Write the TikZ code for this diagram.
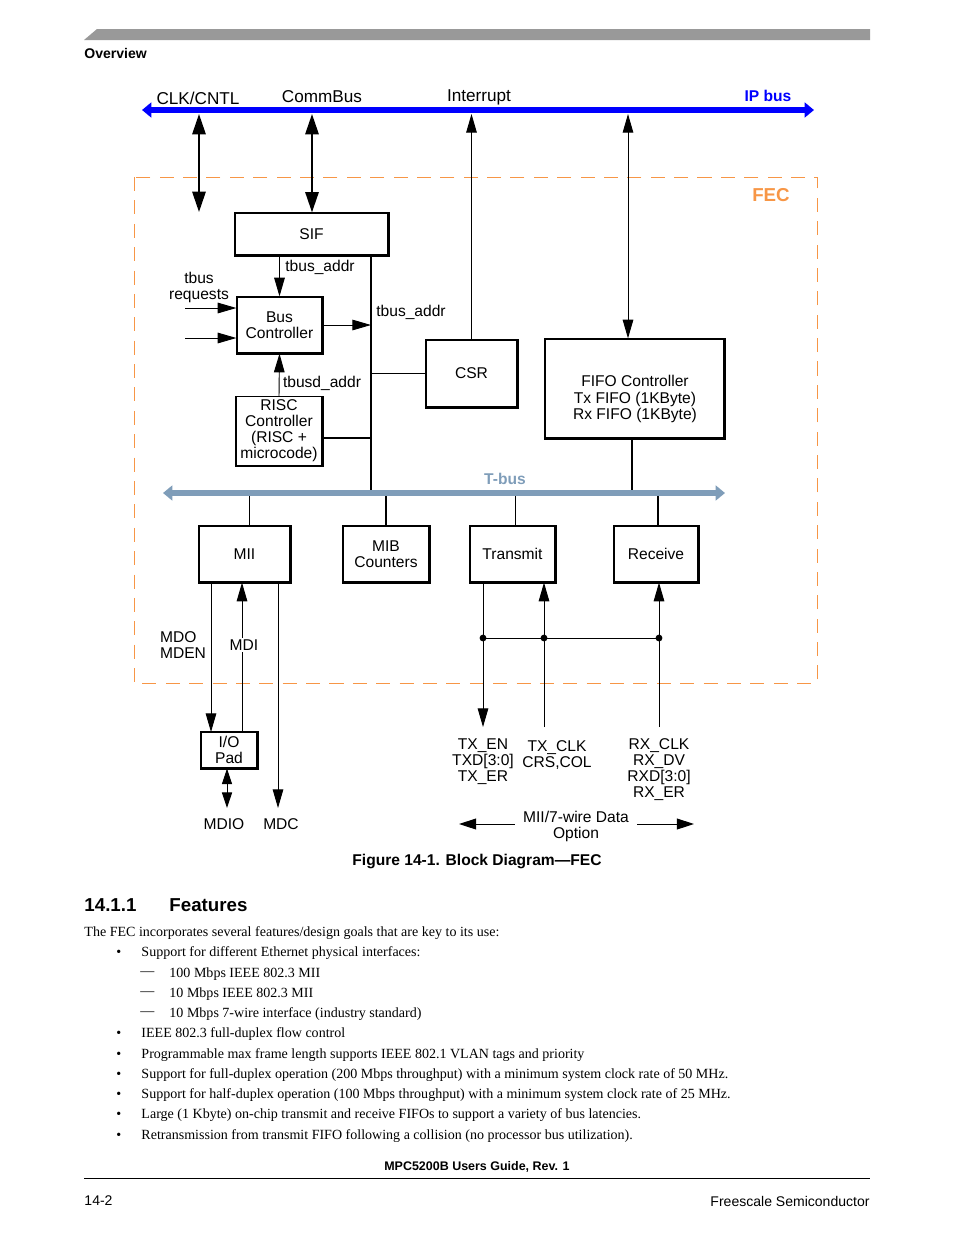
\documentclass[tikz,border=0pt]{standalone}
\usepackage{fontspec}
\setmainfont{Liberation Serif}
\newfontfamily\hv{Liberation Sans}
\usetikzlibrary{arrows.meta}
\definecolor{ipblue}{RGB}{0,0,255}
\definecolor{fecorange}{RGB}{247,150,70}
\definecolor{tbusgray}{RGB}{127,157,185}
\definecolor{bargray}{RGB}{153,153,153}
\tikzset{
  box/.style 2 args={draw,line width=0.8pt,align=center,inner sep=0pt,
    minimum width=#1*0.6415pt,minimum height=#2*0.6415pt},
  lbl/.style={align=center,inner sep=1pt},
  body/.style={anchor=west,inner sep=0pt,font=\rmfamily\fontsize{9}{11}\selectfont},
  bus/.style={{Triangle[length=6pt,width=9.5pt]}-{Triangle[length=6pt,width=9.5pt]}},
  dbl/.style={line width=1.3pt,{Triangle[length=13pt,width=8.5pt]}-{Triangle[length=13pt,width=8.5pt]}},
  small/.style={{Triangle[length=10pt,width=6.5pt]}-{Triangle[length=10pt,width=6.5pt]}},
}
\begin{document}
\begin{tikzpicture}[x=0.6415pt,y=-0.6415pt,>={Triangle[length=12pt,width=6.8pt]},line width=0.6pt,font=\hv\fontsize{10}{10.3}\selectfont]
  \useasboundingbox (0,0) rectangle (954,1235);

  % 页眉
  \fill[bargray] (84,40) -- (97,29) -- (870,29) -- (870,40) -- cycle;
  \node[anchor=west,inner sep=0pt,font=\hv\bfseries\fontsize{9}{10}\selectfont] (ov) at (84,53) {Overview};

  % IP bus
  \coordinate (ipL) at (142,110);
  \coordinate (ipR) at (814,110);
  \draw[bus,ipblue,line width=4pt] (ipL) -- (ipR);
  \node[font=\hv\fontsize{11}{12}\selectfont] (clk) at (198,98) {CLK/CNTL};
  \node[font=\hv\fontsize{11}{12}\selectfont] (comm) at (322,97) {CommBus};
  \node[font=\hv\fontsize{11}{12}\selectfont] (intr) at (479,97) {Interrupt};
  \node[font=\hv\bfseries,text=ipblue] (iplbl) at (768,96) {IP bus};

  % FEC 框
  \draw[fecorange,dash pattern=on 9pt off 6pt] (134,177) rectangle (817,683);
  \node[font=\hv\bfseries\fontsize{12}{13}\selectfont,text=fecorange] (fec) at (771,195) {FEC};

  % 模块
  \node[box={153}{42}] (sif) at (311.5,234) {SIF};
  \node[box={85}{56}] (buscon) at (279.5,325) {Bus\\Controller};
  \node[box={86}{69}] (risc) at (279,431) {RISC\\Controller\\(RISC +\\microcode)};
  \node[box={91}{67}] (csr) at (471.5,373.5) {CSR};
  \node[box={179}{99}] (fifo) at (634.5,388.5) {};
  \node[lbl] (fifotxt) at (635,399) {FIFO Controller\\Tx FIFO (1KByte)\\Rx FIFO (1KByte)};
  \node[box={91}{56}] (mii) at (244.5,554) {MII};
  \node[box={86}{56}] (mib) at (386,554) {MIB\\Counters};
  \node[box={85}{56}] (tx) at (512.5,554) {Transmit};
  \node[box={84}{56}] (rx) at (656,554) {Receive};
  \node[box={56}{36}] (pad) at (229,750) {I/O\\Pad};
  \foreach \b in {sif,buscon,risc,csr,fifo,mii,mib,tx,rx,pad}
    \draw[line width=1.3pt] (\b.south west) -- (\b.south east) -- (\b.north east);

  % 与 IP bus 的连线
  \coordinate (ipclk) at (199,114);
  \coordinate (clkend) at (199,212);
  \draw[dbl] (ipclk) -- (clkend);
  \coordinate (ipcomm) at (312,114);
  \draw[dbl] (ipcomm) -- (ipcomm |- sif.north);
  \coordinate (ipint) at (471,114);
  \draw[->] (csr.north) -- (csr.north |- ipint);
  \coordinate (ipfifo) at (628,114);
  \draw[<->] (ipfifo) -- (ipfifo |- fifo.north);

  % 内部总线
  \draw[->] (sif.south -| buscon.north) -- (buscon.north);
  \node (tba1) at (320,267) {tbus\_addr};
  \coordinate (rq1) at (185,308);
  \coordinate (rq2) at (185,338);
  \draw[->] (rq1) -- (rq1 -| buscon.west);
  \draw[->] (rq2) -- (rq2 -| buscon.west);
  \node[lbl] (req) at (199,287) {tbus\\requests};
  \coordinate (vb) at (371,493);
  \draw[line width=1.3pt] (sif.south -| vb) -- (vb);
  \draw[->] (buscon.east) -- (buscon.east -| vb);
  \node (tba2) at (411,312) {tbus\_addr};
  \draw (csr.west) -- (csr.west -| vb);
  \coordinate (rb) at (371,438);
  \draw[line width=1.3pt] (rb -| risc.east) -- (rb);
  \draw[->] (risc.north) -- (buscon.south);
  \node (tbd) at (322,383) {tbusd\_addr};
  \coordinate (tfifo) at (632,493);
  \draw[line width=1.3pt] (fifo.south -| tfifo) -- (tfifo);

  % T-bus
  \coordinate (tmii) at (249,493);
  \coordinate (tmib) at (386,493);
  \coordinate (ttx) at (515,493);
  \coordinate (trx) at (658,493);
  \draw (tmii) -- (tmii |- mii.north);
  \draw[line width=1.3pt] (tmib) -- (tmib |- mib.north);
  \draw (ttx) -- (ttx |- tx.north);
  \draw[line width=1.3pt] (trx) -- (trx |- rx.north);
  \coordinate (tbL) at (163,493);
  \coordinate (tbR) at (725,493);
  \draw[bus,tbusgray,line width=3.8pt] (tbL) -- (tbR);
  \node[font=\hv\bfseries,text=tbusgray] (tbuslbl) at (505,479) {T-bus};

  % MII 引脚
  \coordinate (mdo) at (211,732);
  \draw[->] (mdo |- mii.south) -- (mdo);
  \coordinate (mdi) at (242,732);
  \draw[->] (mdi) -- (mdi |- mii.south);
  \node[fill=white,inner sep=1pt] (mdilbl) at (244,645) {MDI};
  \node[lbl,anchor=west,align=left] (mdolbl) at (158,645) {MDO\\MDEN};
  \coordinate (mdc) at (278,808);
  \draw[->] (mdc |- mii.south) -- (mdc);
  \coordinate (mdioend) at (227,808);
  \draw[small] (pad.south -| mdioend) -- (mdioend);
  \node (mdiolbl) at (224,824) {MDIO};
  \node (mdclbl) at (281,824) {MDC};

  % 收发引脚
  \coordinate (txen) at (483,727);
  \coordinate (txclk) at (544,727);
  \coordinate (rxclk) at (659,727);
  \draw[->] (txen |- tx.south) -- (txen);
  \draw[->] (txclk) -- (txclk |- tx.south);
  \draw[->] (rxclk) -- (rxclk |- rx.south);
  \coordinate (j1) at (483,638);
  \coordinate (j2) at (544,638);
  \coordinate (j3) at (659,638);
  \draw (j1) -- (j3);
  \fill (j1) circle[radius=2.2pt];
  \fill (j2) circle[radius=2.2pt];
  \fill (j3) circle[radius=2.2pt];
  \node[lbl] (txlbl) at (483,762) {TX\_EN\\TXD[3:0]\\TX\_ER};
  \node[lbl] (txclklbl) at (557,755) {TX\_CLK\\CRS,COL};
  \node[lbl] (rxlbl) at (659,770) {RX\_CLK\\RX\_DV\\RXD[3:0]\\RX\_ER};
  \node[lbl,inner sep=5pt] (opt) at (576,826) {MII/7-wire Data\\Option};
  \coordinate (optL) at (459,824);
  \coordinate (optR) at (694,824);
  \draw[-{Triangle[length=11pt,width=7pt]}] (opt.west |- optL) -- (optL);
  \draw[-{Triangle[length=11pt,width=7pt]}] (opt.east |- optR) -- (optR);

  % 图题
  \node[font=\hv\bfseries] (cap) at (477,861) {Figure 14-1. Block Diagram—FEC};

  % 正文
  \node[anchor=west,inner sep=0pt,font=\hv\bfseries\fontsize{12}{14}\selectfont] (secno) at (84,905) {14.1.1};
  \node[anchor=west,inner sep=0pt,font=\hv\bfseries\fontsize{12}{14}\selectfont] (sec) at (169,905) {Features};
  \node[body] (intro) at (84,933) {The FEC incorporates several features/design goals that are key to its use:};
  \node[body] (b1) at (116,953) {•};
  \node[body] (t1) at (141,953) {Support for different Ethernet physical interfaces:};
  \node[body] (d1) at (140,974) {—};
  \node[body] (t2) at (169,974) {100 Mbps IEEE 802.3 MII};
  \node[body] (d2) at (140,994) {—};
  \node[body] (t3) at (169,994) {10 Mbps IEEE 802.3 MII};
  \node[body] (d3) at (140,1014) {—};
  \node[body] (t4) at (169,1014) {10 Mbps 7-wire interface (industry standard)};
  \node[body] (b2) at (116,1034) {•};
  \node[body] (t5) at (141,1034) {IEEE 802.3 full-duplex flow control};
  \node[body] (b3) at (116,1055) {•};
  \node[body] (t6) at (141,1055) {Programmable max frame length supports IEEE 802.1 VLAN tags and priority};
  \node[body] (b4) at (116,1075) {•};
  \node[body] (t7) at (141,1075) {Support for full-duplex operation (200 Mbps throughput) with a minimum system clock rate of 50 MHz.};
  \node[body] (b5) at (116,1095) {•};
  \node[body] (t8) at (141,1095) {Support for half-duplex operation (100 Mbps throughput) with a minimum system clock rate of 25 MHz.};
  \node[body] (b6) at (116,1115) {•};
  \node[body] (t9) at (141,1115) {Large (1 Kbyte) on-chip transmit and receive FIFOs to support a variety of bus latencies.};
  \node[body] (b7) at (116,1136) {•};
  \node[body] (t10) at (141,1136) {Retransmission from transmit FIFO following a collision (no processor bus utilization).};

  % 页脚
  \node[font=\hv\bfseries\fontsize{8}{9}\selectfont] (guide) at (477,1167) {MPC5200B Users Guide, Rev. 1};
  \coordinate (fl) at (84,1178);
  \coordinate (fr) at (870,1178);
  \draw (fl) -- (fr);
  \node[anchor=west,inner sep=0pt,font=\hv\fontsize{9}{10}\selectfont] (pg) at (84,1201) {14-2};
  \node[anchor=east,inner sep=0pt,font=\hv\fontsize{9}{10}\selectfont] (fs) at (870,1201) {Freescale Semiconductor};
\end{tikzpicture}
\end{document}
